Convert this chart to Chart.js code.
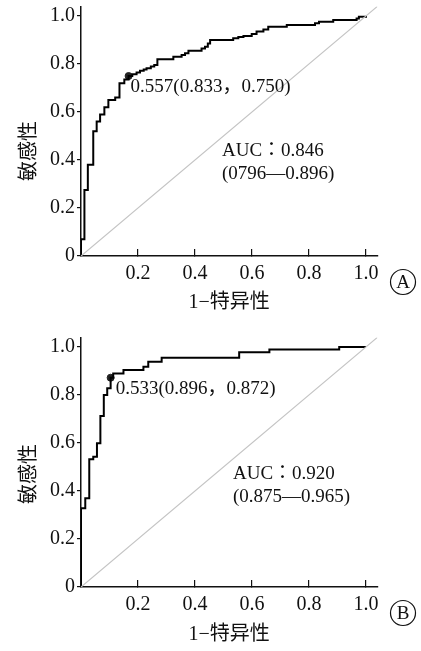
<!DOCTYPE html>
<html><head><meta charset="utf-8">
<script src="https://cdn.jsdelivr.net/npm/chart.js@4"></script>
<style>
html,body{margin:0;padding:0;background:#fff;}
#wrap{position:relative;width:421px;height:651px;overflow:hidden;}
.pane{position:absolute;left:0;width:421px;height:320px;}
canvas{display:block;}
</style></head><body>
<div id="wrap">
<div class="pane" style="top:0"><canvas id="cA" width="421" height="320"></canvas></div>
<div class="pane" style="top:331px"><canvas id="cB" width="421" height="320"></canvas></div>
</div>
<script>
// ---- data ----
const xTicks = [0.2, 0.4, 0.6, 0.8, 1.0];
const yTicks = [0, 0.2, 0.4, 0.6, 0.8, 1.0];
const diagX = [0, 1.04];
const diagY = [0, 1.04];

const rocA_fpr = [0, 0, 0.012, 0.024, 0.043, 0.055, 0.067, 0.082, 0.096, 0.12, 0.135, 0.152, 0.167, 0.18, 0.195, 0.207, 0.22, 0.23, 0.245, 0.257, 0.268, 0.324, 0.353, 0.365, 0.377, 0.423, 0.435, 0.445, 0.453, 0.534, 0.552, 0.57, 0.599, 0.616, 0.64, 0.657, 0.722, 0.821, 0.835, 0.885, 0.967, 0.975, 1.0];
const rocA_tpr = [0, 0.07, 0.275, 0.38, 0.52, 0.56, 0.59, 0.62, 0.65, 0.66, 0.72, 0.735, 0.75, 0.757, 0.765, 0.772, 0.777, 0.782, 0.79, 0.796, 0.82, 0.83, 0.838, 0.845, 0.855, 0.865, 0.872, 0.885, 0.9, 0.907, 0.912, 0.917, 0.925, 0.935, 0.944, 0.955, 0.962, 0.97, 0.976, 0.983, 0.99, 0.997, 1.0];
const cutA = [0.167, 0.750];
const labelsA = ['0.557(0.833\uFF0C0.750)', 'AUC\uFF1A0.846', '(0796\u20140.896)'];

const rocB_fpr = [0, 0, 0.015, 0.029, 0.043, 0.056, 0.068, 0.08, 0.092, 0.104, 0.113, 0.149, 0.219, 0.236, 0.283, 0.555, 0.661, 0.906, 1.0];
const rocB_tpr = [0, 0.328, 0.37, 0.532, 0.543, 0.599, 0.7125, 0.80, 0.828, 0.872, 0.89, 0.904, 0.918, 0.939, 0.955, 0.978, 0.99, 1.0, 1.0];
const cutB = [0.104, 0.872];
const labelsB = ['0.533(0.896\uFF0C0.872)', 'AUC\uFF1A0.920', '(0.875\u20140.965)'];

const xTitle = '1\u2212特异性';
const yTitle = '敏感性';

// ---- drawing ----
const SERIF = "'Liberation Serif','Times New Roman',serif";
const CJK = "'Noto Sans CJK JP'";
const pts = (xs, ys) => xs.map((v, i) => ({x: v, y: ys[i]}));

const textPlugin = {
  id: 'txt',
  afterDraw(chart, args, o) {
    const {ctx, scales: {x, y}} = chart;
    ctx.save();
    ctx.fillStyle = '#111';
    ctx.textBaseline = 'middle';
    // y title
    ctx.save();
    ctx.font = "20px 'Noto Sans CJK SC'";
    ctx.translate(27, o.yTitleY);
    ctx.rotate(-Math.PI / 2);
    ctx.textAlign = 'center';
    ctx.fillText(yTitle, 0, 0);
    ctx.restore();
    // x title
    ctx.font = "20px " + SERIF + ",'Noto Sans CJK SC'";
    ctx.textAlign = 'center';
    ctx.fillText(xTitle, (chart.chartArea.left + chart.chartArea.right) / 2, o.xTitleY);
    // cutoff label
    ctx.textAlign = 'left';
    ctx.font = "19px " + SERIF + "," + CJK;
    const px = x.getPixelForValue(o.cut[0]), py = y.getPixelForValue(o.cut[1]);
    ctx.fillText(o.labels[0], px + o.cutDx, py + 11);
    ctx.fillText(o.labels[1], o.aucX, o.aucY);
    ctx.fillText(o.labels[2], o.aucX, o.aucY + 23);
    // panel letter
    ctx.beginPath();
    ctx.lineWidth = 1.2;
    ctx.strokeStyle = '#111';
    ctx.arc(403, 282, 12.5, 0, Math.PI * 2);
    ctx.stroke();
    ctx.textAlign = 'center';
    ctx.font = "19px " + SERIF;
    ctx.fillText(o.letter, 403, 283);
    ctx.restore();
  }
};

function makeChart(id, fpr, tpr, cut, labels, cfg) {
  return new Chart(document.getElementById(id), {
    type: 'line',
    data: {
      datasets: [
        {data: pts(diagX, diagY), borderColor: '#c4c4c4', borderWidth: 1.2, pointRadius: 0, fill: false},
        {data: pts(fpr, tpr), borderColor: '#000', borderWidth: 2, pointRadius: 0, stepped: 'before', fill: false},
        {data: pts([cut[0]], [cut[1]]), borderColor: '#222', backgroundColor: '#222', pointRadius: 3.5, showLine: false}
      ]
    },
    options: {
      responsive: false,
      animation: false,
      devicePixelRatio: 1,
      layout: {padding: {left: 0, right: 43.6, top: 6.4, bottom: 0}},
      plugins: {legend: {display: false}, tooltip: {enabled: false},
        txt: Object.assign({cut, labels}, cfg)},
      scales: {
        x: {
          type: 'linear', min: 0, max: 1.04,
          afterBuildTicks: s => { s.ticks = xTicks.map(v => ({value: v})); },
          afterFit: s => { s.height = 64; s.paddingLeft = 0; s.paddingRight = 0; },
          ticks: {callback: v => Number(v).toFixed(1), font: {family: SERIF, size: 20}, color: '#111', padding: 13, maxRotation: 0, autoSkip: false},
          grid: {drawOnChartArea: false, tickLength: -7, color: '#111', lineWidth: 1.2},
          border: {color: '#111', width: 1.5}
        },
        y: {
          type: 'linear', min: 0, max: 1.04,
          afterBuildTicks: s => { s.ticks = yTicks.map(v => ({value: v})); },
          afterFit: s => { s.width = 81; s.paddingTop = 0; s.paddingBottom = 0; },
          ticks: {callback: v => v === 0 ? '0' : Number(v).toFixed(1), font: {family: SERIF, size: 20}, color: '#111', padding: 2, autoSkip: false},
          grid: {drawOnChartArea: false, tickLength: 4, color: '#111', lineWidth: 1.2},
          border: {color: '#111', width: 1.5}
        }
      }
    },
    plugins: [textPlugin]
  });
}

makeChart('cA', rocA_fpr, rocA_tpr, cutA, labelsA, {letter: 'A', yTitleY: 151, xTitleY: 303, cutDx: 2, aucX: 222, aucY: 151});
makeChart('cB', rocB_fpr, rocB_tpr, cutB, labelsB, {letter: 'B', yTitleY: 143, xTitleY: 304, cutDx: 5, aucX: 233, aucY: 143});
</script>
</body></html>
